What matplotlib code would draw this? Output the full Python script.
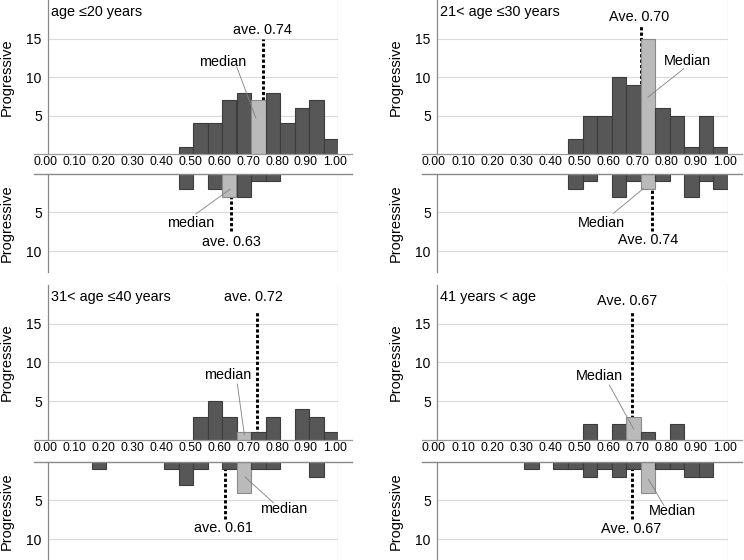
import numpy as np
import matplotlib.pyplot as plt
import matplotlib.transforms as mtransforms

plt.rcParams['font.family'] = ['Liberation Sans', 'DejaVu Sans']

# bins of width 0.05 from 0.00 to 1.00
bin_left = np.round(np.arange(0, 1.0, 0.05), 2)
tick_vals = [0.0, 0.1, 0.2, 0.3, 0.4, 0.5, 0.6, 0.7, 0.8, 0.9, 1.0]
tick_labels = ["0.00", "0.10", "0.20", "0.30", "0.40", "0.50",
               "0.60", "0.70", "0.80", "0.90", "1.00"]

titles = ["age \u226420 years", "21< age \u226430 years",
          "31< age \u226440 years", "41 years < age"]

# counts per bin, upper (top) and lower (bottom, drawn downward) histograms
up1 = [0, 0, 0, 0, 0, 0, 0, 0, 0, 1, 4, 4, 7, 8, 7, 8, 4, 6, 7, 2]
lo1 = [0, 0, 0, 0, 0, 0, 0, 0, 0, 2, 0, 2, 3, 3, 1, 1, 0, 0, 0, 0]
up2 = [0, 0, 0, 0, 0, 0, 0, 0, 0, 2, 5, 5, 10, 9, 15, 6, 5, 1, 5, 1]
lo2 = [0, 0, 0, 0, 0, 0, 0, 0, 0, 2, 1, 0, 3, 1, 2, 1, 0, 3, 1, 2]
up3 = [0, 0, 0, 0, 0, 0, 0, 0, 0, 0, 3, 5, 3, 1, 1, 3, 0, 4, 3, 1]
lo3 = [0, 0, 0, 1, 0, 0, 0, 0, 1, 3, 1, 0, 1, 4, 1, 1, 0, 0, 2, 0]
up4 = [0, 0, 0, 0, 0, 0, 0, 0, 0, 0, 2, 0, 2, 3, 1, 0, 2, 0, 0, 0]
lo4 = [0, 0, 0, 0, 0, 0, 1, 0, 1, 1, 2, 1, 2, 1, 4, 1, 1, 2, 2, 0]

upper_counts = [up1, up2, up3, up4]
lower_counts = [lo1, lo2, lo3, lo4]

# index of the median bin
upper_median = [14, 14, 13, 13]
lower_median = [12, 14, 13, 14]

# averages
upper_ave = [0.74, 0.70, 0.72, 0.67]
lower_ave = [0.63, 0.74, 0.61, 0.67]
ave_word = ["ave.", "Ave.", "ave.", "Ave."]
median_word = ["median", "Median", "median", "Median"]

# annotation layout (data coords): ave text, ave line top, median text, leader start/end
upper_layout = [
    dict(ave_txt=(0.741, 16.1), top=14.9, med_txt=(0.602, 12.0), lead=((0.651, 11.3), (0.717, 4.7))),
    dict(ave_txt=(0.693, 17.8), top=16.6, med_txt=(0.859, 12.1), lead=((0.848, 11.1), (0.725, 7.4))),
    dict(ave_txt=(0.708, 18.4), top=16.6, med_txt=(0.620, 8.4), lead=((0.653, 7.2), (0.677, 0.65))),
    dict(ave_txt=(0.653, 17.9), top=16.6, med_txt=(0.559, 8.3), lead=((0.592, 7.1), (0.676, 1.4))),
]
lower_layout = [
    dict(ave_txt=(0.633, 8.85), top=7.4, med_txt=(0.492, 6.4), lead=((0.510, 5.2), (0.628, 2.0))),
    dict(ave_txt=(0.727, 8.6), top=7.4, med_txt=(0.565, 6.4), lead=((0.607, 5.1), (0.710, 1.9))),
    dict(ave_txt=(0.605, 8.6), top=7.4, med_txt=(0.811, 6.1), lead=((0.777, 5.3), (0.679, 1.95))),
    dict(ave_txt=(0.668, 8.7), top=7.4, med_txt=(0.808, 6.4), lead=((0.779, 5.6), (0.727, 2.3))),
]

dark, dark_edge = "#575757", "#3c3c3c"
light, light_edge = "#bababa", "#8a8a8a"
grid_c = "#dadada"
txt_fs = 10.4

fig = plt.figure(figsize=(7.44, 5.6), dpi=100)

col_left = [48 / 744, 437 / 744]
col_width = [290 / 744, 291 / 744]
row_up = [(0.7245, 0.2755), (0.2143, 0.2768)]
row_lo = [(0.5143, 0.1755), (0.0, 0.1755)]


def style_axis(ax, yticks):
    ax.set_xlim(0, 1)
    for s in ["top", "bottom", "right"]:
        ax.spines[s].set_visible(False)
    ax.spines["left"].set_color("#888888")
    ax.spines["left"].set_linewidth(0.9)
    ax.axvline(1.0, color="#cfcfcf", lw=0.9, zorder=1)
    ax.set_yticks(yticks)
    ax.tick_params(axis="y", length=0, pad=4.5, labelsize=10)
    for y in yticks:
        ax.axhline(y, color=grid_c, lw=0.8, zorder=0)
    ax.set_ylabel("Progressive", fontsize=10.5)
    ax.yaxis.set_label_coords(-34 / 290, 0.5)


def draw_hist(ax, counts, med):
    counts = np.array(counts)
    keep = counts > 0
    fc = [light if i == med else dark for i in range(len(counts))]
    ec = [light_edge if i == med else dark_edge for i in range(len(counts))]
    ax.bar(bin_left[keep], counts[keep], width=0.05, align="edge",
           color=np.array(fc)[keep], edgecolor=np.array(ec)[keep],
           linewidth=0.8, zorder=3)


def annotate(ax, ave, layout, aw, mw):
    ax.plot([ave, ave], [0, layout["top"]], color="black", lw=2.1,
            linestyle=(0, (1.1, 0.75)), zorder=2.5)
    ax.text(layout["ave_txt"][0], layout["ave_txt"][1], f"{aw} {ave:.2f}",
            ha="center", va="center", fontsize=txt_fs, zorder=5)
    ax.text(layout["med_txt"][0], layout["med_txt"][1], mw,
            ha="center", va="center", fontsize=txt_fs, zorder=5)
    (x0, y0), (x1, y1) = layout["lead"]
    ax.plot([x0, x1], [y0, y1], color="#808080", lw=0.6, zorder=4)


for k in range(4):
    r, c = divmod(k, 2)

    # upper histogram
    axu = fig.add_axes([col_left[c], row_up[r][0], col_width[c], row_up[r][1]])
    style_axis(axu, [5, 10, 15])
    axu.set_ylim(0, 20)
    draw_hist(axu, upper_counts[k], upper_median[k])
    annotate(axu, upper_ave[k], upper_layout[k], ave_word[k], median_word[k])
    axu.plot([-0.05, 1.048], [0, 0], color="#9a9a9a", lw=0.9,
             clip_on=False, zorder=4)
    axu.set_xticks(tick_vals)
    axu.set_xticklabels(tick_labels, fontsize=8.8)
    axu.tick_params(axis="x", length=0, pad=1.2)
    shift = mtransforms.ScaledTranslation(-3 / 100, 0, fig.dpi_scale_trans)
    for lab in axu.get_xticklabels():
        lab.set_transform(lab.get_transform() + shift)
    axu.text(0.012, 18.5, titles[k], ha="left", va="center", fontsize=txt_fs)

    # lower histogram (inverted)
    axl = fig.add_axes([col_left[c], row_lo[r][0], col_width[c], row_lo[r][1]])
    style_axis(axl, [5, 10])
    axl.set_ylim(12.7, 0)
    axl.set_xticks([])
    draw_hist(axl, lower_counts[k], lower_median[k])
    annotate(axl, lower_ave[k], lower_layout[k], ave_word[k], median_word[k])
    axl.plot([-0.05, 1.048], [0, 0], color="#8a8a8a", lw=1.0,
             clip_on=False, zorder=4)

fig.savefig("out.png", dpi=100)
